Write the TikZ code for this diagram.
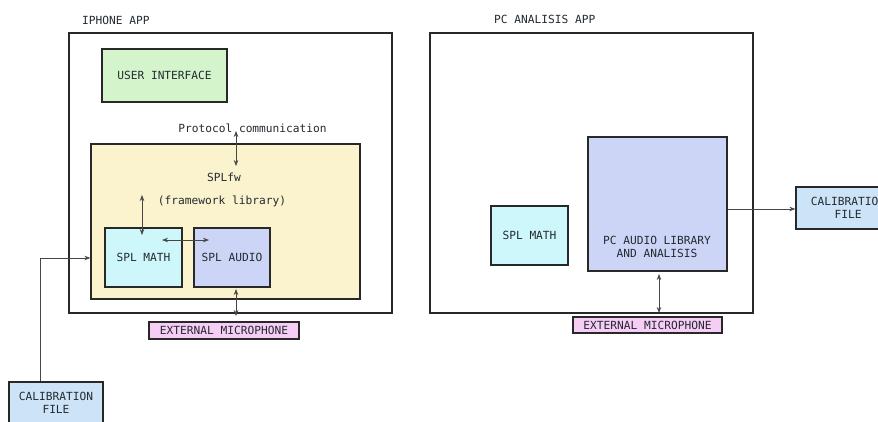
\documentclass[tikz,border=0pt]{standalone}
\usepackage{fontspec}
\setmonofont{DejaVu Sans Mono}
\usetikzlibrary{arrows.meta}

\definecolor{uigreen}{RGB}{212,245,204}
\definecolor{fwyellow}{RGB}{250,243,206}
\definecolor{mathcyan}{RGB}{205,247,250}
\definecolor{audioblue}{RGB}{205,213,247}
\definecolor{micpink}{RGB}{245,205,245}
\definecolor{calblue}{RGB}{205,228,248}
\definecolor{edge}{RGB}{40,40,40}
\definecolor{ink}{RGB}{35,42,48}
\definecolor{wire}{RGB}{70,70,70}

\tikzset{
  box/.style={draw=edge, line width=1.3pt, rectangle, inner sep=0pt,
    text=ink, align=center, font=\ttfamily\fontsize{11.2}{12.5}\selectfont},
  txt/.style={text=ink, inner sep=0pt, align=center,
    font=\ttfamily\fontsize{11.2}{12.5}\selectfont},
  wirelink/.style={draw=wire, line width=0.7pt},
  both/.style={wirelink, {Stealth[length=6pt,width=4.5pt]}-{Stealth[length=6pt,width=4.5pt]}},
  one/.style={wirelink, -{Stealth[length=6pt,width=4.5pt]}}
}

\begin{document}
\begin{tikzpicture}[x=1pt, y=-1pt]
\useasboundingbox (0,0) rectangle (878,421);
\clip (0,0) rectangle (878,421);
\fill[white] (0,0) rectangle (878,421);

% ---------- iPhone application ----------
\node[txt, anchor=west] (iphonelbl) at (82,20) {IPHONE APP};
\node[box, minimum width=323pt, minimum height=280pt] (iphone) at (230.5,173) {};
\node[box, fill=uigreen, minimum width=125pt, minimum height=53pt] (ui) at (164.5,75.5) {USER INTERFACE};
\node[txt] (proto) at (252.5,128) {Protocol communication};
\node[box, fill=fwyellow, minimum width=269pt, minimum height=155pt] (splfw) at (225.5,221.5) {};
\node[txt] (fwname) at (224,177) {SPLfw};
\node[txt] (fwdesc) at (222,201) {(framework library)};
\node[box, fill=mathcyan, minimum width=77pt, minimum height=59pt] (math) at (143.5,257.5) {SPL MATH};
\node[box, fill=audioblue, minimum width=76pt, minimum height=59pt] (audio) at (232,257.5) {SPL AUDIO};
\node[box, fill=micpink, line width=1.1pt, minimum width=150pt, minimum height=17pt] (micL) at (224,330.5) {EXTERNAL MICROPHONE};
\node[box, fill=calblue, minimum width=94pt, minimum height=50pt] (calL) at (56,407) {};
\node[txt] (calLtxt) at (56,403) {CALIBRATION\\FILE};

% free ends of the iPhone connectors
\coordinate (protoTop) at (236,131);
\coordinate (protoBot) at (236,166);
\coordinate (fwPort) at (142,195);
\coordinate (mathPort) at (142,235);
\coordinate (mathSide) at (162,240);
\coordinate (audioSide) at (209,240);
\coordinate (audioPort) at (236,289);
\coordinate (micPortL) at (236,316);

\draw[both] (protoTop) -- (protoBot);
\draw[both] (fwPort) -- (mathPort);
\draw[both] (mathSide) -- (audioSide);
\draw[both] (audioPort) -- (micPortL);
\draw[one] (calL.north -| 40,0) |- (splfw.west |- 0,258);

% ---------- PC analysis application ----------
\node[txt, anchor=west] (pclbl) at (494,19) {PC ANALISIS APP};
\node[box, minimum width=323pt, minimum height=280pt] (pc) at (591.5,173) {};
\node[box, fill=mathcyan, minimum width=77pt, minimum height=59pt] (pcmath) at (529.5,235.5) {SPL MATH};
\node[box, fill=audioblue, minimum width=139pt, minimum height=134pt] (pcaudio) at (657.5,204) {};
\node[txt] (pcaudiotxt) at (657,247) {PC AUDIO LIBRARY\\AND ANALISIS};
\node[box, fill=micpink, line width=1.1pt, minimum width=149pt, minimum height=16pt] (micR) at (647.5,325) {EXTERNAL MICROPHONE};
\node[box, fill=calblue, minimum width=94pt, minimum height=42pt] (calR) at (843,208) {};
\node[txt] (calRtxt) at (848,208) {CALIBRATION\\FILE};

\coordinate (pcPort) at (659,274);
\coordinate (micPortR) at (659,313);

\draw[both] (pcPort) -- (micPortR);
\draw[one] (pcaudio.east |- 0,209) -- (calR.west |- 0,209);
\end{tikzpicture}
\end{document}
